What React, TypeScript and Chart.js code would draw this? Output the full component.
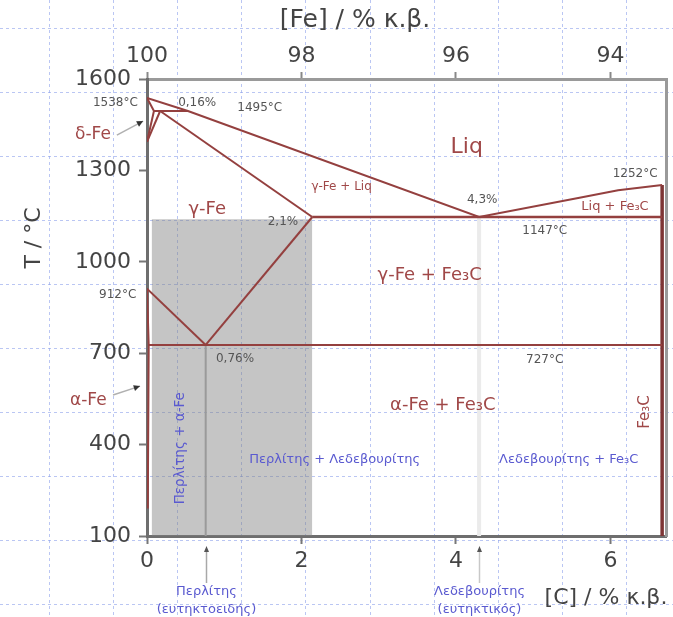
import React, { useEffect, useRef } from "react";
import { Chart, registerables } from "chart.js";

Chart.register(...registerables);

// ---- axis ticks ----
const C_TICKS = [0, 2, 4, 6];
const FE_TICKS = [100, 98, 96, 94];
const T_TICKS = [100, 400, 700, 1000, 1300, 1600];
const C_MAX = 6.72;

// ---- phase boundary lines: [C %, T °C] ----
type P = [number, number];
const liquidus: P[] = [[0, 1538], [0.53, 1495], [4.3, 1147], [5.6, 1210], [6.1, 1235], [6.67, 1252]];
const deltaSolidus: P[] = [[0, 1538], [0.09, 1495]];
const peritectic: P[] = [[0.09, 1495], [0.53, 1495]];
const deltaGammaA: P[] = [[0, 1394], [0.09, 1495]];
const deltaGammaB: P[] = [[0, 1394], [0.17, 1495]];
const gammaSolidus: P[] = [[0.17, 1495], [2.14, 1147]];
const eutectic: P[] = [[2.14, 1147], [6.67, 1147]];
const acm: P[] = [[2.14, 1147], [0.76, 727]];
const a3: P[] = [[0, 912], [0.76, 727]];
const eutectoid: P[] = [[0.022, 727], [6.67, 727]];
const alphaSolvus: P[] = [[0, 912], [0.022, 727], [0.01, 190]];
const cementite: P[] = [[6.67, 1252], [6.67, 100]];
const pearliteLine: P[] = [[0.76, 727], [0.76, 100]];
const ledeburiteLine: P[] = [[4.3, 1147], [4.3, 100]];
const steelBand: P[] = [[0.06, 1140], [2.14, 1140]];

const RED = "#94403f";
const TXT_RED = "#a04848";
const GREY_TXT = "#555555";
const BLUE = "#5a5ad0";
const FONT = "DejaVu Sans";

const redLabels = [
  { t: "Liq", x: 4.14, y: 1377, s: 22 },
  { t: "γ-Fe", x: 0.78, y: 1173, s: 18 },
  { t: "γ-Fe + Liq", x: 2.52, y: 1245, s: 12 },
  { t: "Liq + Fe₃C", x: 6.06, y: 1180, s: 13 },
  { t: "γ-Fe + Fe₃C", x: 3.66, y: 957, s: 18 },
  { t: "α-Fe + Fe₃C", x: 3.83, y: 530, s: 18 },
  { t: "Fe₃C", x: 6.45, y: 507, s: 15, r: -90 },
  { t: "δ-Fe", x: -0.7, y: 1416, s: 17 },
  { t: "α-Fe", x: -0.76, y: 546, s: 17 },
];
const greyLabels = [
  { t: "1538°C", x: -0.41, y: 1521 },
  { t: "0,16%", x: 0.65, y: 1521 },
  { t: "1495°C", x: 1.46, y: 1504 },
  { t: "2,1%", x: 1.76, y: 1131 },
  { t: "4,3%", x: 4.34, y: 1203 },
  { t: "1147°C", x: 5.15, y: 1101 },
  { t: "1252°C", x: 6.32, y: 1288 },
  { t: "912°C", x: -0.38, y: 891 },
  { t: "0,76%", x: 1.14, y: 681 },
  { t: "727°C", x: 5.15, y: 678 },
];
const blueLabels = [
  { t: "Περλίτης + α-Fe", x: 0.44, y: 388, r: -90, s: 13.5 },
  { t: "Περλίτης + Λεδεβουρίτης", x: 2.43, y: 350, s: 13 },
  { t: "Λεδεβουρίτης + Fe₃C", x: 5.46, y: 350, s: 13 },
];
const pointers = [
  { x: 0.76, l1: "Περλίτης", l2: "(ευτηκτοειδής)", c: "#a8a8a8" },
  { x: 4.3, l1: "Λεδεβουρίτης", l2: "(ευτηκτικός)", c: "#c8c8c8" },
];
const leaderLines = [
  { from: [-0.39, 1416], to: [-0.05, 1462] },
  { from: [-0.44, 563], to: [-0.09, 592] },
];

const toXY = (pts: P[]) => pts.map(([x, y]) => ({ x, y }));

const bgPlugin = {
  id: "bg",
  beforeDraw(chart: any) {
    const { ctx, width, height } = chart;
    ctx.save();
    ctx.fillStyle = "#ffffff";
    ctx.fillRect(0, 0, width, height);
    ctx.strokeStyle = "rgba(140,160,235,0.6)";
    ctx.lineWidth = 1;
    ctx.setLineDash([3, 3]);
    for (let x = 48.5; x < width; x += 64.2) {
      ctx.beginPath();
      ctx.moveTo(Math.round(x) + 0.5, 0);
      ctx.lineTo(Math.round(x) + 0.5, height);
      ctx.stroke();
    }
    for (let y = 28; y < height; y += 64) {
      ctx.beginPath();
      ctx.moveTo(0, y + 0.5);
      ctx.lineTo(width, y + 0.5);
      ctx.stroke();
    }
    ctx.restore();
  },
};

const textPlugin = {
  id: "texts",
  afterDraw(chart: any) {
    const { ctx, chartArea } = chart;
    const xs = chart.scales.x;
    const ys = chart.scales.y;
    const px = (v: number) => xs.getPixelForValue(v);
    const py = (v: number) => ys.getPixelForValue(v);
    const put = (t: string, x: number, y: number, font: string, color: string, rot = 0) => {
      ctx.save();
      ctx.translate(x, y);
      if (rot) ctx.rotate((rot * Math.PI) / 180);
      ctx.font = font;
      ctx.fillStyle = color;
      ctx.textAlign = "center";
      ctx.textBaseline = "middle";
      ctx.fillText(t, 0, 0);
      ctx.restore();
    };
    ctx.save();
    for (const l of leaderLines) {
      const x1 = px(l.from[0]), y1 = py(l.from[1]);
      const x2 = px(l.to[0]), y2 = py(l.to[1]);
      ctx.strokeStyle = "#b0b0b0";
      ctx.lineWidth = 1.5;
      ctx.beginPath();
      ctx.moveTo(x1, y1);
      ctx.lineTo(x2, y2);
      ctx.stroke();
      const a = Math.atan2(y2 - y1, x2 - x1);
      ctx.fillStyle = "#333";
      ctx.beginPath();
      ctx.moveTo(x2, y2);
      ctx.lineTo(x2 - 7 * Math.cos(a - 0.45), y2 - 7 * Math.sin(a - 0.45));
      ctx.lineTo(x2 - 7 * Math.cos(a + 0.45), y2 - 7 * Math.sin(a + 0.45));
      ctx.closePath();
      ctx.fill();
    }
    for (const l of redLabels) put(l.t, px(l.x), py(l.y), `${l.s}px '${FONT}'`, TXT_RED, l.r || 0);
    for (const l of greyLabels) put(l.t, px(l.x), py(l.y), `12px '${FONT}'`, GREY_TXT);
    for (const l of blueLabels) put(l.t, px(l.x), py(l.y), `${l.s}px '${FONT}'`, BLUE, l.r || 0);
    for (const p of pointers) {
      const x = Math.round(px(p.x)) + 0.5;
      const yTop = chartArea.bottom + 10;
      ctx.strokeStyle = p.c;
      ctx.lineWidth = 1.5;
      ctx.beginPath();
      ctx.moveTo(x, yTop + 3);
      ctx.lineTo(x, chartArea.bottom + 47);
      ctx.stroke();
      ctx.fillStyle = "#555";
      ctx.beginPath();
      ctx.moveTo(x, yTop);
      ctx.lineTo(x - 2.5, yTop + 6);
      ctx.lineTo(x + 2.5, yTop + 6);
      ctx.closePath();
      ctx.fill();
      put(p.l1, x, chartArea.bottom + 56, `13px '${FONT}'`, BLUE);
      put(p.l2, x, chartArea.bottom + 74, `13px '${FONT}'`, BLUE);
    }
    put("[Fe] / % κ.β.", 355, 20, `25px '${FONT}'`, "#444");
    put("[C] / % κ.β.", 606, 598, `22px '${FONT}'`, "#444");
    put("T / °C", 34, 238, `22px '${FONT}'`, "#444", -90);
    ctx.restore();
  },
};

const lineDs = (data: P[], color: string, width: number) => ({
  data: toXY(data),
  showLine: true,
  borderColor: color,
  borderWidth: width,
  pointRadius: 0,
  fill: false,
  xAxisID: "x",
  yAxisID: "y",
});

const plain = (v: any) => String(v);

export default function App() {
  const ref = useRef<HTMLCanvasElement>(null);
  useEffect(() => {
    if (!ref.current) return;
    const tickFont = { family: FONT, size: 22 };
    const chart = new Chart(ref.current, {
      type: "scatter",
      data: {
        datasets: [
          lineDs(liquidus, RED, 2),
          lineDs(deltaSolidus, RED, 2),
          lineDs(peritectic, RED, 2),
          lineDs(deltaGammaA, RED, 2),
          lineDs(deltaGammaB, RED, 2),
          lineDs(gammaSolidus, RED, 2),
          lineDs(eutectic, RED, 2.5),
          lineDs(acm, RED, 2),
          lineDs(a3, RED, 2),
          lineDs(eutectoid, RED, 2),
          lineDs(alphaSolvus, RED, 2),
          lineDs(cementite, "#7e3535", 3.5),
          lineDs(pearliteLine, "#9a9a9a", 2),
          lineDs(ledeburiteLine, "#ebebeb", 4),
          {
            ...lineDs(steelBand, "rgba(0,0,0,0)", 0),
            fill: "start",
            backgroundColor: "rgba(128,128,128,0.46)",
          },
        ] as any,
      },
      options: {
        animation: false,
        responsive: false,
        maintainAspectRatio: false,
        devicePixelRatio: 1,
        layout: { padding: { left: 0, right: 7, top: 0, bottom: 0 } },
        plugins: { legend: { display: false }, tooltip: { enabled: false } },
        scales: {
          x: {
            type: "linear",
            position: "bottom",
            min: 0,
            max: C_MAX,
            afterBuildTicks: (a: any) => { a.ticks = C_TICKS.map((v) => ({ value: v })); },
            afterFit: (s: any) => { s.height = 81; },
            ticks: { font: tickFont, color: "#444", padding: 4, callback: plain },
            grid: { drawOnChartArea: false, drawTicks: true, tickLength: 8, tickColor: "#777", tickWidth: 2 },
            border: { display: true, color: "#6e6e6e", width: 3 },
          },
          x2: {
            type: "linear",
            position: "top",
            min: 100 - C_MAX,
            max: 100,
            reverse: true,
            afterBuildTicks: (a: any) => { a.ticks = FE_TICKS.map((v) => ({ value: v })); },
            afterFit: (s: any) => { s.height = 79; },
            ticks: { font: tickFont, color: "#444", padding: 3, callback: plain },
            grid: { drawOnChartArea: false, drawTicks: true, tickLength: 7, tickColor: "#888", tickWidth: 2 },
            border: { display: true, color: "#9a9a9a", width: 3 },
          },
          y: {
            type: "linear",
            position: "left",
            min: 100,
            max: 1600,
            afterBuildTicks: (a: any) => { a.ticks = T_TICKS.map((v) => ({ value: v })); },
            afterFit: (s: any) => { s.width = 147; },
            ticks: { font: tickFont, color: "#444", padding: 8, callback: plain },
            grid: { drawOnChartArea: false, drawTicks: true, tickLength: 8, tickColor: "#777", tickWidth: 2 },
            border: { display: true, color: "#6e6e6e", width: 3 },
          },
          y2: {
            type: "linear",
            position: "right",
            min: 100,
            max: 1600,
            afterFit: (s: any) => { s.width = 0; },
            ticks: { display: false },
            grid: { drawOnChartArea: false, drawTicks: false },
            border: { display: true, color: "#9a9a9a", width: 3 },
          },
        },
      } as any,
      plugins: [bgPlugin, textPlugin],
    });
    return () => chart.destroy();
  }, []);
  return (
    <div style={{ position: "fixed", left: 0, top: 0, width: 673, height: 617 }}>
      <canvas ref={ref} width={673} height={617} style={{ width: 673, height: 617, display: "block" }} />
    </div>
  );
}
